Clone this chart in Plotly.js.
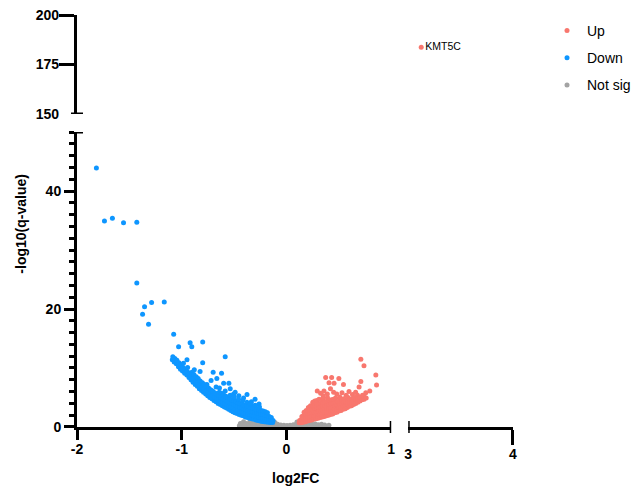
<!DOCTYPE html>
<html><head><meta charset="utf-8">
<script src="https://cdn.plot.ly/plotly-3.0.1.min.js"></script>
<style>html,body{margin:0;padding:0;background:#fff}#chart{width:641px;height:489px}</style>
</head><body><div id="chart"></div>
<script>
// ---- data (log2FC, -log10 q) ----
const downPoints = [
[-1.815,43.9],[-1.738,34.9],[-1.662,35.4],[-1.556,34.6],[-1.429,34.7],[-1.429,24.4],
[-1.374,19.1],[-1.355,20.4],[-1.317,17.4],[-1.288,21.1],[-1.167,21.2],[-1.077,15.7],
[-1.030,13.6],[-0.920,14.3],[-0.904,13.6],[-0.800,14.4],[-0.585,11.9],[-0.950,11.4],
[-0.800,10.9],[-0.825,9.4],[-0.700,9.3],[-0.665,8.2],[-0.720,7.9],[-0.600,7.4],
[-0.550,7.4],[-0.537,6.5],[-0.585,6.1],[-0.505,5.6],[-0.377,5.5],[-0.300,4.7],
[-0.620,9.1],[-0.455,5.3],[-0.410,4.9],[-0.335,4.3],[-0.262,3.9],[-0.672,6.8],
[-0.490,5.9],[-0.640,6.6],[-0.760,7.2],[-0.880,9.7],
[-1.090,11.4],[-1.085,11.9],[-1.072,11.0],[-1.066,11.6],[-1.052,10.7],[-1.046,11.3],
[-1.031,10.2],[-1.027,10.9],[-1.012,9.8],[-1.006,10.5],[-0.993,9.5],[-0.987,10.1],[-0.984,10.8],
[-0.972,9.1],[-0.965,9.8],[-0.951,8.8],[-0.947,9.4],[-0.944,10.1],[-0.931,8.4],[-0.926,9.1],
[-0.912,8.0],[-0.908,8.7],[-0.903,9.3],[-0.892,7.6],[-0.887,8.3],[-0.884,8.9],
[-0.871,7.2],[-0.866,7.9],[-0.862,8.5],[-0.851,6.9],[-0.848,7.5],[-0.843,8.2],
[-0.832,6.5],[-0.828,7.1],[-0.824,7.8],[-0.811,6.2],[-0.806,6.8],[-0.803,7.5],
[-0.792,5.9],[-0.787,6.5],[-0.785,7.2],[-0.771,5.6],[-0.767,6.2],[-0.763,6.9],
[-0.752,5.3],[-0.748,5.9],[-0.744,6.6],[-0.732,5.0],[-0.728,5.7],[-0.724,6.3],
[-0.712,4.8],[-0.708,5.4],[-0.705,6.1],[-0.692,4.5],[-0.688,5.1],[-0.684,5.8],
[-0.672,4.3],[-0.668,4.9],[-0.664,5.6],[-0.652,4.0],[-0.648,4.6],[-0.645,5.3],[-0.642,5.9],
[-0.632,3.8],[-0.628,4.4],[-0.625,5.0],[-0.621,5.7],[-0.612,3.6],[-0.608,4.2],[-0.605,4.8],[-0.602,5.5],
[-0.592,3.4],[-0.588,4.0],[-0.585,4.6],[-0.581,5.2],[-0.572,3.2],[-0.568,3.8],[-0.565,4.4],[-0.562,5.1],
[-0.552,3.0],[-0.548,3.6],[-0.545,4.2],[-0.542,4.8],[-0.538,5.4],
[-0.532,2.8],[-0.528,3.4],[-0.525,4.0],[-0.522,4.6],
[-0.512,2.6],[-0.508,3.2],[-0.505,3.9],[-0.502,4.5],[-0.498,5.1],
[-0.492,2.4],[-0.488,3.0],[-0.485,3.7],[-0.482,4.3],
[-0.472,2.3],[-0.468,2.9],[-0.465,3.5],[-0.462,4.1],[-0.458,4.7],
[-0.452,2.1],[-0.448,2.7],[-0.445,3.4],[-0.442,4.0],
[-0.432,2.0],[-0.428,2.6],[-0.425,3.2],[-0.422,3.9],[-0.418,4.5],
[-0.412,1.9],[-0.408,2.4],[-0.405,3.1],[-0.402,3.7],
[-0.392,1.7],[-0.388,2.3],[-0.385,2.9],[-0.382,3.6],[-0.378,4.2],
[-0.372,1.6],[-0.368,2.2],[-0.365,2.8],[-0.362,3.5],
[-0.352,1.5],[-0.348,2.1],[-0.345,2.7],[-0.342,3.4],[-0.338,3.9],
[-0.332,1.4],[-0.328,2.0],[-0.325,2.6],[-0.322,3.2],
[-0.312,1.3],[-0.308,1.9],[-0.305,2.5],[-0.302,3.1],[-0.298,3.7],
[-0.292,1.2],[-0.288,1.8],[-0.285,2.4],[-0.282,3.0],
[-0.272,1.1],[-0.268,1.7],[-0.265,2.3],[-0.262,2.9],[-0.258,3.4],
[-0.252,1.0],[-0.248,1.6],[-0.245,2.2],[-0.242,2.8],
[-0.232,0.95],[-0.228,1.5],[-0.225,2.1],[-0.222,2.7],
[-0.212,0.9],[-0.208,1.4],[-0.205,2.0],[-0.202,2.6],
[-0.192,0.85],[-0.188,1.35],[-0.185,1.9],[-0.182,2.4],
[-0.172,0.8],[-0.168,1.3],[-0.165,1.8],
[-0.152,0.75],[-0.148,1.2],[-0.145,1.6],
[-0.132,0.75],[-0.128,1.1]
];
const upPoints = [
[0.710,11.5],[0.740,10.4],[0.853,8.8],[0.860,7.1],[0.374,8.4],[0.431,8.4],[0.500,8.2],
[0.406,7.5],[0.454,7.4],[0.544,7.2],[0.710,7.7],[0.693,6.8],[0.795,6.1],[0.757,5.8],
[0.678,5.4],[0.597,6.0],[0.358,6.1],[0.294,6.1],[0.326,5.7],[0.420,6.5],[0.630,5.5],
[0.726,5.4],[0.480,5.6],[0.530,5.8],[0.390,5.6],[0.450,5.9],[0.660,5.9],[0.350,5.3],[0.570,5.4],
[0.121,0.7],[0.125,1.1],[0.141,0.7],[0.144,1.3],[0.147,1.8],
[0.161,0.8],[0.163,1.4],[0.166,2.0],[0.168,2.5],
[0.181,0.9],[0.183,1.5],[0.186,2.1],[0.188,2.8],
[0.201,1.0],[0.203,1.6],[0.205,2.2],[0.207,2.8],[0.209,3.3],
[0.221,1.1],[0.223,1.7],[0.225,2.3],[0.227,2.9],[0.229,3.6],
[0.241,1.2],[0.243,1.8],[0.245,2.4],[0.247,3.0],[0.249,3.6],[0.251,4.2],
[0.261,1.3],[0.263,1.9],[0.265,2.5],[0.267,3.1],[0.269,3.7],[0.271,4.4],
[0.281,1.4],[0.283,2.0],[0.285,2.6],[0.287,3.2],[0.289,3.8],[0.291,4.5],
[0.301,1.5],[0.303,2.1],[0.305,2.7],[0.307,3.3],[0.309,3.9],[0.311,4.7],
[0.321,1.6],[0.323,2.2],[0.325,2.8],[0.327,3.4],[0.329,4.0],[0.331,4.6],
[0.341,1.7],[0.343,2.3],[0.345,2.9],[0.347,3.5],[0.349,4.1],[0.351,4.8],
[0.361,1.8],[0.363,2.4],[0.365,3.0],[0.367,3.6],[0.369,4.2],
[0.381,1.9],[0.383,2.5],[0.385,3.1],[0.387,3.7],[0.389,4.4],[0.391,5.0],
[0.401,2.0],[0.403,2.6],[0.405,3.2],[0.407,3.8],[0.409,4.5],
[0.421,2.1],[0.423,2.7],[0.425,3.3],[0.427,3.9],[0.429,4.6],
[0.441,2.2],[0.443,2.8],[0.445,3.4],[0.447,4.0],[0.449,4.7],
[0.461,2.4],[0.463,3.0],[0.465,3.6],[0.467,4.2],[0.469,4.9],
[0.481,2.5],[0.483,3.1],[0.485,3.7],[0.487,4.3],
[0.501,2.7],[0.503,3.3],[0.505,3.9],[0.507,4.5],[0.509,5.1],
[0.521,2.8],[0.523,3.4],[0.525,4.0],[0.527,4.6],
[0.541,3.0],[0.543,3.6],[0.545,4.2],[0.547,4.8],
[0.561,3.1],[0.563,3.7],[0.565,4.3],
[0.581,3.3],[0.583,3.9],[0.585,4.5],[0.587,5.0],
[0.601,3.5],[0.603,4.1],[0.605,4.7],
[0.621,3.6],[0.623,4.2],[0.625,4.8],
[0.641,3.8],[0.643,4.4],[0.645,5.0],
[0.661,4.0],[0.663,4.6],[0.681,4.2],[0.683,4.8],
[0.701,4.4],[0.703,5.0],[0.721,4.6],[0.741,4.7],[0.743,5.1],[0.761,4.9]
];
const notSigPoints = [
[-0.45,0.2],[-0.44,0.6],[-0.42,0.15],[-0.415,0.55],[-0.41,0.9],[-0.39,0.2],[-0.385,0.6],
[-0.36,0.1],[-0.355,0.5],[-0.35,0.9],[-0.33,0.2],[-0.325,0.6],[-0.30,0.1],[-0.295,0.5],
[-0.29,0.85],[-0.27,0.2],[-0.265,0.55],[-0.24,0.1],[-0.235,0.45],[-0.23,0.8],[-0.21,0.2],
[-0.205,0.5],[-0.18,0.1],[-0.175,0.4],[-0.17,0.75],[-0.15,0.2],[-0.145,0.5],[-0.12,0.1],
[-0.115,0.4],[-0.11,0.75],[-0.09,0.15],[-0.085,0.45],[-0.06,0.1],[-0.055,0.35],[-0.03,0.1],
[-0.025,0.3],[0.0,0.05],[0.005,0.25],[0.03,0.1],[0.035,0.3],[0.06,0.1],[0.065,0.4],
[0.09,0.15],[0.095,0.5],[0.10,0.85],[0.12,0.1],[0.125,0.4],[0.15,0.2],[0.155,0.5],
[0.18,0.1],[0.185,0.45],[0.21,0.2],[0.215,0.5],[0.24,0.1],[0.245,0.45],[0.27,0.15],
[0.275,0.5],[0.30,0.1],[0.305,0.4],[0.33,0.15],[0.335,0.45],[0.36,0.1],[0.365,0.35],
[0.40,0.1],[0.405,0.3]
];
const labelledX = [3.124];
const labelledY = [183.7];
const labelledNames = ['KMT5C'];
const seriesNames = ['Up', 'Down', 'Not sig'];
const xTickVals = [-2, -1, 0, 1];
const x2TickVals = [3, 4];
const yTickVals = [0, 20, 40];
const y2TickVals = [150, 175, 200];

const colors = {up: '#F8776E', down: '#0E96FF', ns: '#A3A3A3'};
const FONT = 'Liberation Sans, Arial, Helvetica, sans-serif';
const xs = a => a.map(p => p[0]);
const ys = a => a.map(p => p[1]);

const mk = (c) => ({color: c, size: 5, line: {width: 0}});
// empty helper traces only register the label-only overlay axes
const helper = (xa, ya) => ({type:'scatter', mode:'markers', x: [], y: [], xaxis: xa, yaxis: ya,
  showlegend: false, hoverinfo: 'skip'});
const data = [
  {type:'scatter', mode:'markers', name: seriesNames[2], x: xs(notSigPoints), y: ys(notSigPoints),
   xaxis:'x', yaxis:'y', marker: mk(colors.ns), legendrank: 3, legendgroup:'ns', cliponaxis:false, hoverinfo:'skip'},
  {type:'scatter', mode:'markers', name: seriesNames[1], x: xs(downPoints), y: ys(downPoints),
   xaxis:'x', yaxis:'y', marker: mk(colors.down), legendrank: 2, legendgroup:'down', cliponaxis:false},
  {type:'scatter', mode:'markers', name: seriesNames[0], x: xs(upPoints), y: ys(upPoints),
   xaxis:'x', yaxis:'y', marker: mk(colors.up), legendrank: 1, legendgroup:'up', cliponaxis:false},
  {type:'scatter', mode:'markers+text', name: seriesNames[0], x: labelledX, y: labelledY,
   text: labelledNames, textposition:'middle right', textfont:{family: FONT, size: 10.5, color:'#000'},
   xaxis:'x2', yaxis:'y2', marker: mk(colors.up), showlegend:false, legendgroup:'up', cliponaxis:false},
  helper('x3', 'y'), helper('x4', 'y'), helper('x', 'y3')
];

const lineStyle = {showline:true, linecolor:'#000', linewidth:3, showgrid:false, zeroline:false,
  tickcolor:'#000', tickwidth:3, fixedrange:true};
const tickFont = {family: FONT, size: 14, color:'#000', weight: 'bold'};
const labelAxis = {showline: false, showgrid: false, zeroline: false, ticks: '', tickmode: 'array',
  tickfont: tickFont, fixedrange: true};

const layout = {
  width: 641, height: 489,
  margin: {l: 77, r: 128, t: 15, b: 62, autoexpand: false},
  paper_bgcolor: '#fff', plot_bgcolor: '#fff',
  font: {family: FONT, color: '#000'},
  showlegend: true,
  legend: {x: 1.078, xanchor: 'left', y: 1.0, yanchor: 'top', font: {family: FONT, size: 14, color: '#000'},
    tracegroupgap: 6, bgcolor: 'rgba(0,0,0,0)', itemsizing: 'trace'},
  xaxis: Object.assign({}, lineStyle, {domain: [0, 0.7207], range: [-2, 1], anchor: 'y',
    tickmode: 'array', tickvals: xTickVals.slice(0, 3), ticks: 'outside', ticklen: 10, showticklabels: false}),
  xaxis3: Object.assign({}, labelAxis, {overlaying: 'x', anchor: 'y', side: 'bottom', range: [-2, 1],
    tickvals: xTickVals, ticktext: xTickVals.map(String), ticklabelstandoff: 12}),
  xaxis2: Object.assign({}, lineStyle, {domain: [0.7597, 1], range: [3, 4], anchor: 'y',
    tickmode: 'array', tickvals: [x2TickVals[1]], ticks: 'outside', ticklen: 15, showticklabels: false}),
  xaxis4: Object.assign({}, labelAxis, {overlaying: 'x2', anchor: 'y', side: 'bottom', range: [3, 4],
    tickvals: x2TickVals, ticktext: x2TickVals.map(String), ticklabelstandoff: 17}),
  yaxis: Object.assign({}, lineStyle, {domain: [0, 0.716], range: [0, 50], anchor: 'x',
    tickmode: 'array', tickvals: yTickVals, ticktext: yTickVals.map(String), ticks: 'outside', ticklen: 10,
    tickfont: tickFont,
    minor: {tickmode: 'linear', tick0: 0, dtick: 2, ticks: 'outside', ticklen: 5, tickwidth: 3, tickcolor: '#000', showgrid: false}}),
  yaxis2: Object.assign({}, lineStyle, {domain: [0.7597, 1], range: [150, 200], anchor: 'x',
    tickmode: 'array', tickvals: y2TickVals.slice(1), ticks: 'outside', ticklen: 15, showticklabels: false}),
  yaxis3: Object.assign({}, labelAxis, {overlaying: 'y2', anchor: 'x', side: 'left', range: [150, 200],
    tickvals: y2TickVals, ticktext: y2TickVals.map(String), ticklabelstandoff: 17}),
  shapes: [
    {type:'line', xref:'x', x0: xTickVals[3], x1: xTickVals[3], yref:'paper', ysizemode:'pixel', yanchor:0, y0:-6, y1:6, line:{color:'#000', width:3}},
    {type:'line', xref:'x2', x0: x2TickVals[0], x1: x2TickVals[0], yref:'paper', ysizemode:'pixel', yanchor:0, y0:-6, y1:6, line:{color:'#000', width:3}},
    {type:'line', yref:'y', y0: 50, y1: 50, xref:'paper', xsizemode:'pixel', xanchor:0, x0:-6, x1:6, line:{color:'#000', width:3}},
    {type:'line', yref:'y2', y0: y2TickVals[0], y1: y2TickVals[0], xref:'paper', xsizemode:'pixel', xanchor:0, x0:-6, x1:6, line:{color:'#000', width:3}}
  ],
  annotations: [
    {text: '<b>-log10(q-value)</b>', xref:'paper', yref:'paper', x: -0.129, y: 0.493, xanchor:'center', yanchor:'middle',
     textangle: -90, showarrow:false, font:{family: FONT, size: 14, color:'#000'}},
    {text: '<b>log2FC</b>', xref:'paper', yref:'paper', x: 0.501, y: -0.124, xanchor:'center', yanchor:'middle',
     showarrow:false, font:{family: FONT, size: 14, color:'#000'}}
  ]
};

Plotly.newPlot('chart', data, layout, {displayModeBar: false, staticPlot: true});
</script>
</body></html>
